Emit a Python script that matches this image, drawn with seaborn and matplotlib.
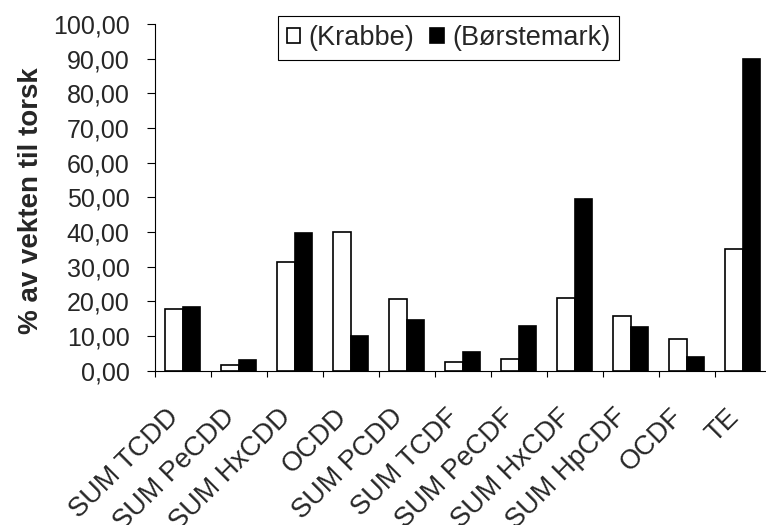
import matplotlib
matplotlib.use("Agg")
import matplotlib.pyplot as plt
import matplotlib.transforms as mtransforms
from matplotlib.patches import Patch
from matplotlib.ticker import FixedLocator, FuncFormatter
import pandas as pd
import seaborn as sns

categories = [
    "SUM TCDD", "SUM PeCDD", "SUM HxCDD", "OCDD", "SUM PCDD",
    "SUM TCDF", "SUM PeCDF", "SUM HxCDF", "SUM HpCDF", "OCDF", "TE",
]
krabbe = [17.7, 1.5, 31.3, 40.1, 20.7, 2.5, 3.3, 21.0, 15.8, 9.0, 35.2]
borstemark = [18.4, 3.1, 39.7, 10.1, 14.6, 5.5, 12.8, 49.5, 12.7, 3.9, 90.0]
series_names = ["(Krabbe)", "(Børstemark)"]

df = pd.DataFrame({
    "kategori": categories * 2,
    "verdi": krabbe + borstemark,
    "serie": [series_names[0]] * len(categories) + [series_names[1]] * len(categories),
})

sns.set_theme(style="white")
plt.rcParams["font.family"] = ["Liberation Sans", "DejaVu Sans"]

fig = plt.figure(figsize=(7.66, 5.25), dpi=100)
ax = fig.add_axes([154.7 / 766, 1 - 370.7 / 525, 616 / 766, 346.7 / 525])

sns.barplot(
    data=df, x="kategori", y="verdi", hue="serie",
    palette=["white", "black"], edgecolor="black", linewidth=1.2,
    width=0.625, gap=0, legend=False, ax=ax, saturation=1,
)

ax.set_xlim(-0.5, len(categories) - 0.5)
ax.set_ylim(0, 100)
ax.set_yticks(range(0, 101, 10))
ax.yaxis.set_major_formatter(FuncFormatter(lambda v, p: f"{v:.2f}".replace(".", ",")))
ax.tick_params(axis="y", which="major", direction="out", length=6, width=0.8,
               color="black", labelsize=18, left=True, pad=12)

# category labels in the middle, tick marks on the boundaries
ax.tick_params(axis="x", which="major", length=0, labelsize=19.5, pad=8)
ax.xaxis.set_minor_locator(FixedLocator([i - 0.5 for i in range(len(categories) + 1)]))
ax.tick_params(axis="x", which="minor", direction="out", length=4.5, width=0.8,
               color="black", bottom=True)
shift = mtransforms.ScaledTranslation(-0.17, -0.22, fig.dpi_scale_trans)
for lbl in ax.get_xticklabels():
    lbl.set_rotation(45)
    lbl.set_ha("right")
    lbl.set_rotation_mode("anchor")
    lbl.set_transform(lbl.get_transform() + shift)

for side in ["top", "right"]:
    ax.spines[side].set_visible(False)
for side in ["left", "bottom"]:
    ax.spines[side].set_color("black")
    ax.spines[side].set_linewidth(0.8)

ax.set_xlabel("")
ax.set_ylabel("% av vekten til torsk", fontsize=20, fontweight="bold")
ax.yaxis.set_label_coords(-0.18, 0.49)

handles = [
    Patch(facecolor="white", edgecolor="black", linewidth=1.2, label=series_names[0]),
    Patch(facecolor="black", edgecolor="black", linewidth=1.2, label=series_names[1]),
]
leg = fig.legend(
    handles=handles, loc="upper left", bbox_to_anchor=(277.7 / 766, 1 - 16 / 525),
    ncol=2, fontsize=19.5, frameon=True, fancybox=False, framealpha=1,
    edgecolor="black", borderaxespad=0, handlelength=0.5, handleheight=0.5,
    handletextpad=0.3, columnspacing=0.6, borderpad=0.33,
)
leg.get_frame().set_linewidth(0.8)

fig.savefig("out.png", dpi=100)
